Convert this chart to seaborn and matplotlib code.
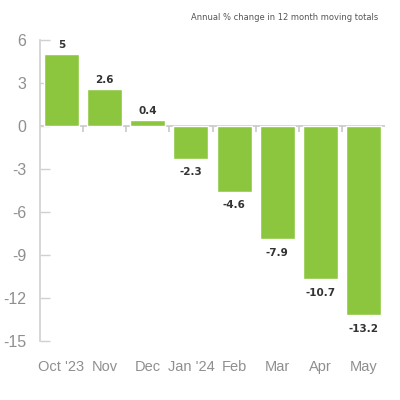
import numpy as np
import pandas as pd
import matplotlib
matplotlib.use("Agg")
import matplotlib.pyplot as plt
import seaborn as sns

# data
months = ["Oct '23", "Nov", "Dec", "Jan '24", "Feb", "Mar", "Apr", "May"]
change = [5.0, 2.6, 0.4, -2.3, -4.6, -7.9, -10.7, -13.2]
labels = ["5", "2.6", "0.4", "-2.3", "-4.6", "-7.9", "-10.7", "-13.2"]
yticks = [6, 3, 0, -3, -6, -9, -12, -15]

GREEN = "#8cc63f"
GREY = "#8f8f8f"
NARROW = ["Liberation Sans Narrow", "DejaVu Sans"]

df = pd.DataFrame({"month": months, "change": change})

sns.set_style("white")
plt.rcParams["font.family"] = ["Liberation Sans", "DejaVu Sans"]
plt.rcParams["axes.unicode_minus"] = False

fig = plt.figure(figsize=(4, 4), dpi=100)
ax = fig.add_axes([0.1, 0.1475, 0.8625, 0.7525])

sns.barplot(data=df, x="month", y="change", color=GREEN, saturation=1,
            width=0.81, ax=ax)

ax.set_xlim(-0.5, len(months) - 0.5)
ax.set_ylim(-15, 6)
ax.set_yticks(yticks)
ax.set_xlabel("")
ax.set_ylabel("")

for s in ("top", "right", "bottom"):
    ax.spines[s].set_visible(False)
ax.spines["left"].set_color("#d0d0d0")
ax.spines["left"].set_linewidth(1.2)

# zero line with small separators between months
ax.axhline(0, color="#c8c8c8", lw=1.2, zorder=0)
ax.vlines(np.arange(0.5, len(months) - 0.5), -0.45, 0, color="#c8c8c8", lw=1.2)

ax.tick_params(axis="y", direction="in", length=7, width=1, color="#d0d0d0",
               labelsize=11.5, labelcolor=GREY, pad=10, left=True)
ax.tick_params(axis="x", length=0, labelsize=10.5, labelcolor=GREY, pad=14)

# value labels
for i, (v, t) in enumerate(zip(change, labels)):
    if v >= 0:
        ax.annotate(t, (i, v), xytext=(0, 3), textcoords="offset points",
                    ha="center", va="bottom", fontsize=7.5, fontweight="bold",
                    color="#333333", family=NARROW)
    else:
        ax.annotate(t, (i, v), xytext=(0, -6), textcoords="offset points",
                    ha="center", va="top", fontsize=7.5, fontweight="bold",
                    color="#333333", family=NARROW)

fig.text(0.945, 0.955, "Annual % change in 12 month moving totals",
         ha="right", va="center", fontsize=6, color="#555555", family=NARROW)

fig.savefig("out.png", dpi=100, facecolor="white")
